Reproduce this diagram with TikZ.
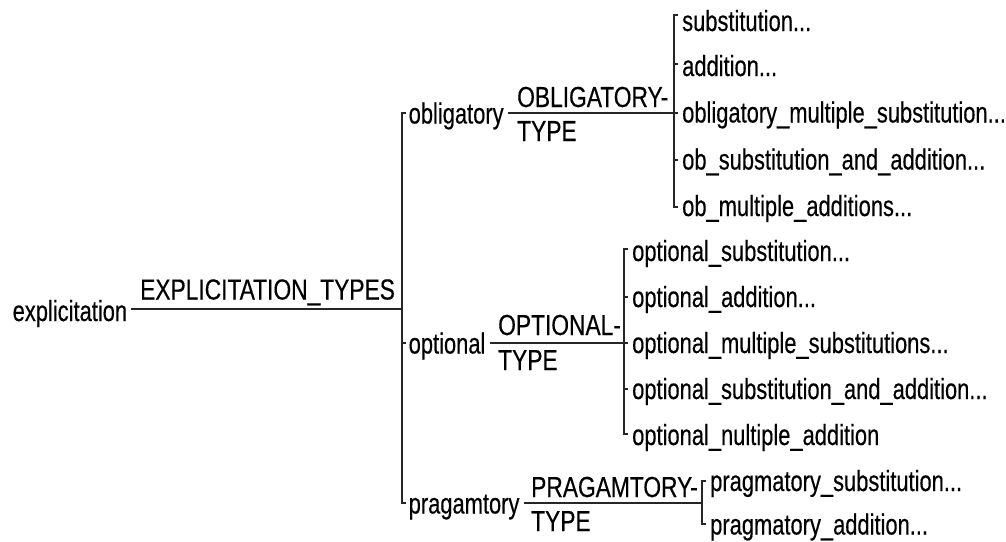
\documentclass[tikz,border=0pt]{standalone}
\usepackage{fontspec}
\setmainfont{Liberation Sans}[FakeStretch=0.755,FakeBold=0.35]
\newfontfamily\capsfont{Liberation Sans}[FakeStretch=0.785,FakeBold=0.35]
\begin{document}
\begin{tikzpicture}[x=1pt,y=-1pt,
  lbl/.style={anchor=base west, inner sep=0pt, font=\fontsize{29}{34}\selectfont},
  caplbl/.style={lbl, font=\capsfont\fontsize{29}{34}\selectfont},
  wire/.style={line width=1.3pt, draw=black!85}]
\useasboundingbox (0,0) rectangle (1006,541);
% root
\node[lbl] (expl) at (12.5,321) {explicitation};
\node[caplbl] (et) at (140,299.5) {EXPLICITATION\_TYPES};
\coordinate (b1) at (402,309);
\draw[wire] ([shift={(3.5,-12)}]expl.base east) -- (b1);
% first bracket
\coordinate (b1t) at (402,113);
\coordinate (b1m) at (402,343);
\coordinate (b1b) at (402,503);
\draw[wire] ([xshift=4pt]b1t) -- (b1t) -- (b1b) -- ([xshift=4pt]b1b);
\draw[wire] (b1m) -- ([xshift=4pt]b1m);
% obligatory
\node[lbl] (obl) at (408.5,123.5) {obligatory};
\node[caplbl] (oblt1) at (517,107) {OBLIGATORY-};
\node[caplbl] (oblt2) at (517,141) {TYPE};
\coordinate (b2) at (674,113);
\draw[wire] ([shift={(4.5,-10.5)}]obl.base east) -- (b2) -- ([xshift=4pt]b2);
\coordinate (b2t) at (674,15);
\coordinate (b2a) at (674,64);
\coordinate (b2c) at (674,160);
\coordinate (b2b) at (674,207);
\draw[wire] ([xshift=4pt]b2t) -- (b2t) -- (b2b) -- ([xshift=4pt]b2b);
\draw[wire] (b2a) -- ([xshift=4pt]b2a);
\draw[wire] (b2c) -- ([xshift=4pt]b2c);
\node[lbl] (o1) at (682,31) {substitution...};
\node[lbl] (o2) at (682,76) {addition...};
\node[lbl] (o3) at (682,122.5) {obligatory\_multiple\_substitution...};
\node[lbl] (o4) at (682,169.5) {ob\_substitution\_and\_addition...};
\node[lbl] (o5) at (682,216) {ob\_multiple\_additions...};
% optional
\node[lbl] (opt) at (408.5,353.5) {optional};
\node[caplbl] (optt1) at (498,335) {OPTIONAL-};
\node[caplbl] (optt2) at (498,370) {TYPE};
\coordinate (b3) at (624,343);
\draw[wire] ([shift={(4,-10.5)}]opt.base east) -- (b3) -- ([xshift=4pt]b3);
\coordinate (b3t) at (624,249);
\coordinate (b3a) at (624,297);
\coordinate (b3c) at (624,389);
\coordinate (b3b) at (624,434);
\draw[wire] ([xshift=4pt]b3t) -- (b3t) -- (b3b) -- ([xshift=4pt]b3b);
\draw[wire] (b3a) -- ([xshift=4pt]b3a);
\draw[wire] (b3c) -- ([xshift=4pt]b3c);
\node[lbl] (p1) at (632,261) {optional\_substitution...};
\node[lbl] (p2) at (632,307) {optional\_addition...};
\node[lbl] (p3) at (632,353) {optional\_multiple\_substitutions...};
\node[lbl] (p4) at (632,399) {optional\_substitution\_and\_addition...};
\node[lbl] (p5) at (632,445) {optional\_nultiple\_addition};
% pragamtory
\node[lbl] (prg) at (408.5,513.5) {pragamtory};
\node[caplbl] (prgt1) at (531,497) {PRAGAMTORY-};
\node[caplbl] (prgt2) at (531,531) {TYPE};
\coordinate (b4) at (702,503);
\draw[wire] ([shift={(4.5,-10.5)}]prg.base east) -- (b4);
\coordinate (b4t) at (702,481);
\coordinate (b4b) at (702,524);
\draw[wire] ([xshift=4pt]b4t) -- (b4t) -- (b4b) -- ([xshift=4pt]b4b);
\node[lbl] (q1) at (710,491) {pragmatory\_substitution...};
\node[lbl] (q2) at (710,534.5) {pragmatory\_addition...};
\end{tikzpicture}
\end{document}
